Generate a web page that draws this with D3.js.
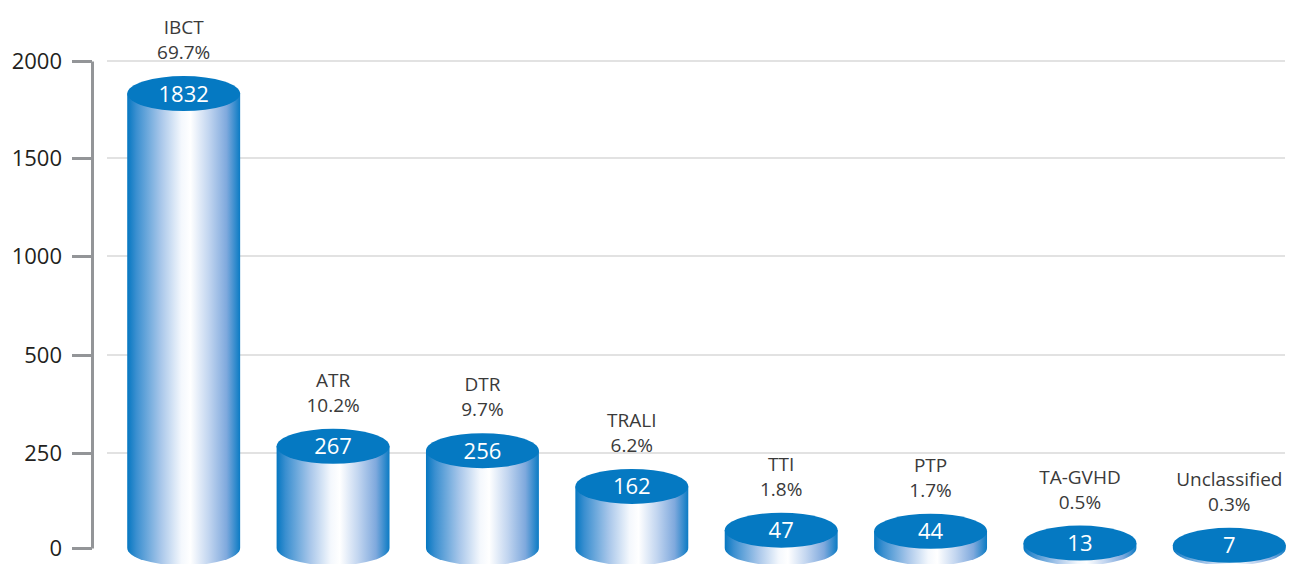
<!DOCTYPE html>
<html>
<head>
<meta charset="utf-8">
<script src="https://cdn.jsdelivr.net/npm/d3@7"></script>
<style>
  html, body { margin: 0; padding: 0; background: #fff; }
  svg { display: block; font-family: 'Open Sans', 'Noto Sans', sans-serif; }
</style>
</head>
<body>
<div id="chart"></div>
<script>
// data
let categories = ['IBCT', 'ATR', 'DTR', 'TRALI', 'TTI', 'PTP', 'TA-GVHD', 'Unclassified']
let counts = [1832, 267, 256, 162, 47, 44, 13, 7]
let percents = ['69.7%', '10.2%', '9.7%', '6.2%', '1.8%', '1.7%', '0.5%', '0.3%']
let yTicks = [0, 250, 500, 1000, 1500, 2000]

let w = 1298,
    h = 564,
    axisX = 92,
    ry = 17.5

let svg = d3.select('#chart')
    .append('svg')
    .attr('width', w)
    .attr('height', h)

// gradient for the cylinder body
let grad = svg.append('defs')
    .append('linearGradient')
    .attr('id', 'body')
    .attr('x1', '0%').attr('x2', '100%')
    .attr('y1', '0%').attr('y2', '0%')
;[[0, '#0577c1'], [0.08, '#3a8fd0'], [0.3, '#a9c7ea'], [0.48, '#f4f8fd'], [0.56, '#ffffff'],
  [0.72, '#c3d6f0'], [0.88, '#7fa9dd'], [1, '#0b7bc4']].forEach(s => {
    grad.append('stop').attr('offset', s[0]).attr('stop-color', s[1])
})

// the axis is stretched below 500 (not linear in the original)
let y = d3.scaleLinear()
    .domain(yTicks)
    .range([548, 453, 355, 256, 158, 61])

let x = d3.scaleBand()
    .domain(categories)
    .range([109, 1304])
    .paddingInner(0.244)
    .paddingOuter(0.122)

// gridlines
svg.append('g')
    .selectAll('line')
    .data(yTicks.filter(t => t > 0))
    .enter()
    .append('line')
    .attr('x1', 107)
    .attr('x2', 1285)
    .attr('y1', d => y(d))
    .attr('y2', d => y(d))
    .attr('stroke', '#e2e2e2')
    .attr('stroke-width', 2)

// y axis
let yAxis = d3.axisLeft(y)
    .tickValues(yTicks)
    .tickSize(20)
    .tickSizeOuter(0)
    .tickPadding(10)
    .tickFormat(d3.format('d'))

let gy = svg.append('g')
    .attr('transform', `translate(${axisX},0)`)
    .call(yAxis)
gy.select('.domain').attr('stroke', '#939598').attr('stroke-width', 3)
gy.selectAll('.tick line').attr('stroke', '#939598').attr('stroke-width', 3)
gy.selectAll('.tick text')
    .attr('fill', '#231f20')
    .attr('font-size', 22)
    .attr('font-family', "'Open Sans', sans-serif")

// cylinders
let rows = categories.map((c, i) => ({ cat: c, val: counts[i], pct: percents[i] }))
let base = y(0)

let bars = svg.append('g')
    .selectAll('g')
    .data(rows)
    .enter()
    .append('g')

let rx = x.bandwidth() / 2

bars.append('path')
    .attr('d', d => {
        let l = x(d.cat), r = l + x.bandwidth(), t = y(d.val)
        return `M${l},${t} L${l},${base} A${rx},${ry} 0 0 0 ${r},${base} L${r},${t} Z`
    })
    .attr('fill', 'url(#body)')

bars.append('ellipse')
    .attr('cx', d => x(d.cat) + rx)
    .attr('cy', d => y(d.val))
    .attr('rx', rx)
    .attr('ry', ry)
    .attr('fill', '#0579c2')

bars.append('text')
    .text(d => d.val)
    .attr('x', d => x(d.cat) + rx)
    .attr('y', d => y(d.val))
    .attr('dy', '0.36em')
    .attr('text-anchor', 'middle')
    .attr('fill', '#fff')
    .attr('font-size', 22)

// category + percent labels
bars.append('text')
    .text(d => d.pct)
    .attr('x', d => x(d.cat) + rx)
    .attr('y', d => y(d.val) - ry - 17)
    .attr('text-anchor', 'middle')
    .attr('fill', '#3a3a3a')
    .attr('font-size', 19)

bars.append('text')
    .text(d => d.cat)
    .attr('x', d => x(d.cat) + rx)
    .attr('y', d => y(d.val) - ry - 42)
    .attr('text-anchor', 'middle')
    .attr('fill', '#3a3a3a')
    .attr('font-size', 19)
</script>
</body>
</html>
